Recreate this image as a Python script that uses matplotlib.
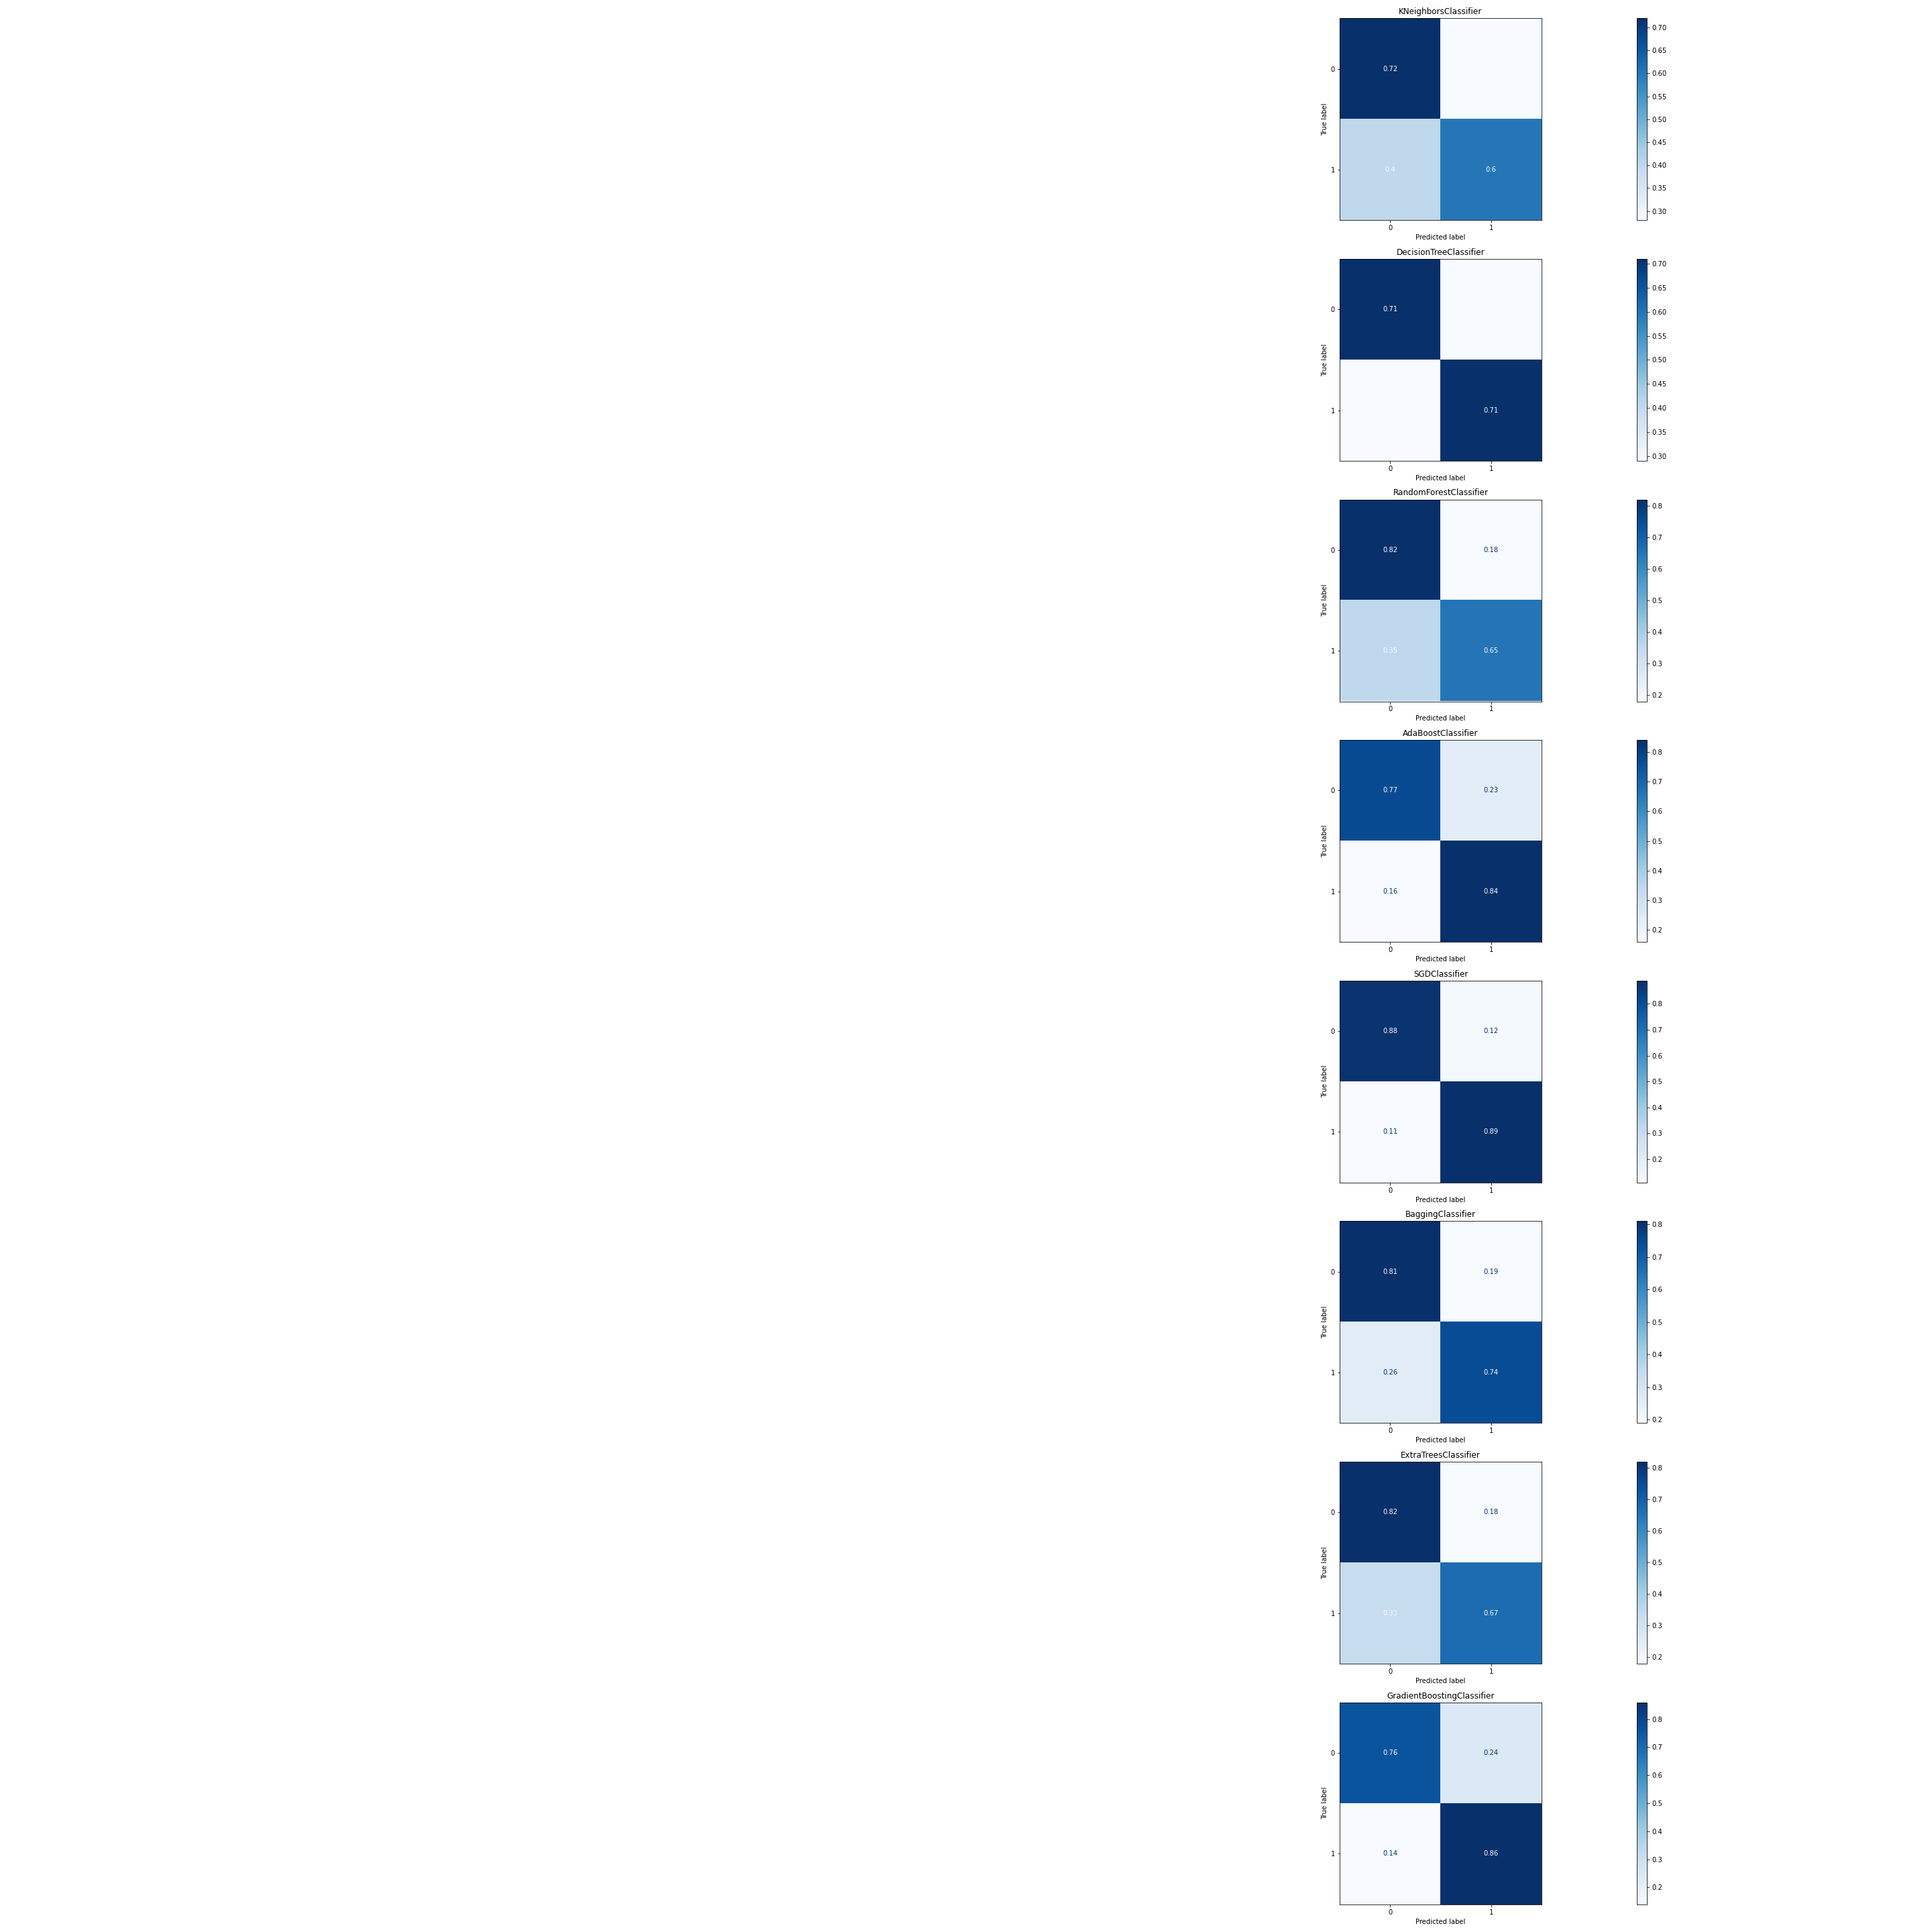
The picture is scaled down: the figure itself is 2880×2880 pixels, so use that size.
import numpy as np
import matplotlib
matplotlib.use('Agg')
import matplotlib.pyplot as plt

# normalized confusion matrices
classes = ['0', '1']
models = ['KNeighborsClassifier', 'DecisionTreeClassifier', 'RandomForestClassifier',
          'AdaBoostClassifier', 'SGDClassifier', 'BaggingClassifier',
          'ExtraTreesClassifier', 'GradientBoostingClassifier']

knn = [[0.72, 0.28], [0.40, 0.60]]
dtree = [[0.71, 0.29], [0.29, 0.71]]
rforest = [[0.82, 0.18], [0.35, 0.65]]
adaboost = [[0.77, 0.23], [0.16, 0.84]]
sgd = [[0.88, 0.12], [0.11, 0.89]]
bagging = [[0.81, 0.19], [0.26, 0.74]]
extratrees = [[0.82, 0.18], [0.33, 0.67]]
gboost = [[0.76, 0.24], [0.14, 0.86]]

matrices = [knn, dtree, rforest, adaboost, sgd, bagging, extratrees, gboost]

W = 2880.0
fig = plt.figure(figsize=(40, 40), dpi=72)
cmap = plt.get_cmap('Blues')
dark = cmap(1.0)
light = cmap(0.0)
dark_below = 0.27   # cells under this got the dark text

for i, (name, m) in enumerate(zip(models, matrices)):
    cm = np.array(m)
    top = 27.3 + i * 358.6
    ax = fig.add_axes([1997 / W, 1 - (top + 301) / W, 301 / W, 301 / W])
    cax = fig.add_axes([2440 / W, 1 - (top + 301) / W, 15 / W, 301 / W])

    im = ax.imshow(cm, interpolation='nearest', cmap=cmap)
    for r in range(cm.shape[0]):
        for c in range(cm.shape[1]):
            col = dark if cm[r, c] < dark_below else light
            ax.text(c, r, format(cm[r, c], '.2g'), ha='center', va='center', color=col)

    ax.set_xticks(np.arange(len(classes)))
    ax.set_yticks(np.arange(len(classes)))
    ax.set_xticklabels(classes)
    ax.set_yticklabels(classes)
    ax.set_xlabel('Predicted label')
    ax.set_ylabel('True label')
    ax.set_title(name)
    fig.colorbar(im, cax=cax)

fig.savefig('out.png', dpi=72)
